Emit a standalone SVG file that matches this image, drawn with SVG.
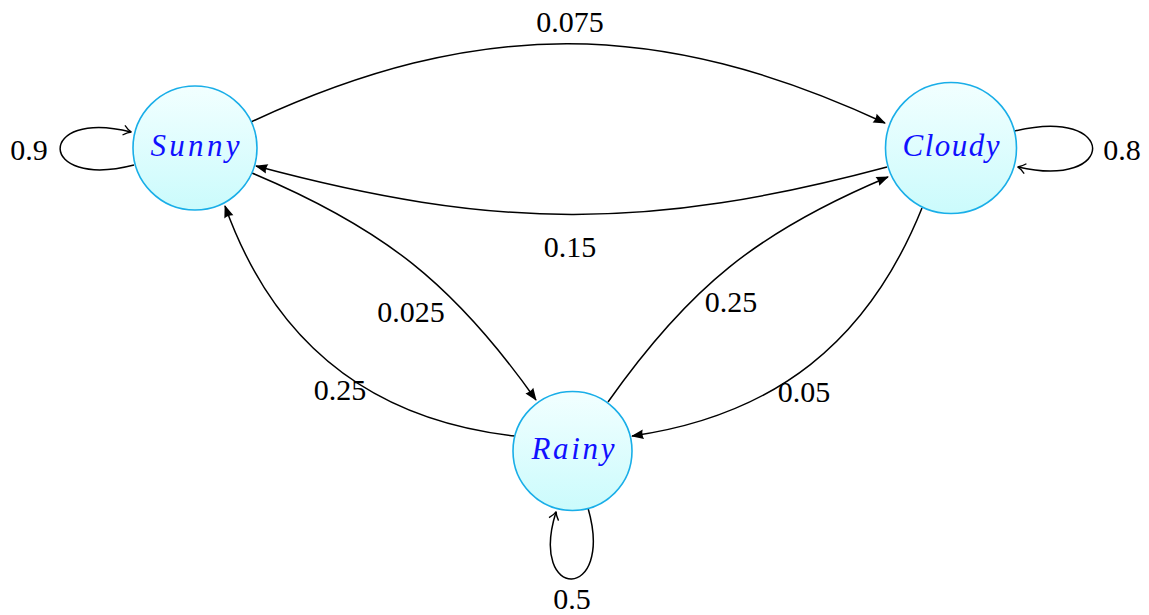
<svg xmlns="http://www.w3.org/2000/svg" width="1149" height="615" viewBox="0 0 1149 615">
<style>
.node circle{fill:url(#g);stroke:#19aee8;stroke-width:1.6}
.node text{font-family:'Liberation Serif','DejaVu Serif',serif;font-style:italic;font-size:31px;fill:#1010ff;text-anchor:middle}
.edge{fill:none;stroke:#000;stroke-width:1.5}
.lbl{font-family:'Liberation Serif','DejaVu Serif',serif;font-size:30px;fill:#000;text-anchor:middle}
</style>
<defs>
<linearGradient id="g" x1="0" y1="0" x2="0" y2="1">
<stop offset="0" stop-color="#f2ffff"/>
<stop offset="1" stop-color="#cbfbfc"/>
</linearGradient>
<marker id="a" viewBox="-13 -6 15 12" refX="0" refY="0" markerWidth="15" markerHeight="12" markerUnits="userSpaceOnUse" orient="auto">
<path d="M1,0 L-11.5,-4.8 Q-9.5,0 -11.5,4.8 Z" fill="#000"/>
</marker>
<marker id="o" viewBox="-10 -6 12 12" refX="0" refY="0" markerWidth="12" markerHeight="12" markerUnits="userSpaceOnUse" orient="auto">
<path d="M-7.5,-5 C-4,-1.8 -1.5,-0.5 0.5,0 C-1.5,0.5 -4,1.8 -7.5,5" fill="none" stroke="#000" stroke-width="1.3"/>
</marker>
</defs>
<g id="connectors">
<path class="edge" marker-end="url(#a)" d="M251,122 C477,17 659,18 885,123"/>
<path class="edge" marker-end="url(#a)" d="M887,167 C648,231 495,230 256,166"/>
<path class="edge" marker-end="url(#a)" d="M252,173 C383,228 454,284 536,400"/>
<path class="edge" marker-end="url(#a)" d="M515,436 C371,420 274,343 225,206"/>
<path class="edge" marker-end="url(#a)" d="M608,402 C689,287 758,231.5 888,177"/>
<path class="edge" marker-end="url(#a)" d="M922,208 C868,342 775,415.5 632,436"/>
<path class="edge" marker-end="url(#o)" d="M134,165 C36,190 36,108 131,132"/>
<path class="edge" marker-end="url(#o)" d="M1015,131 C1118,106 1118,190 1018,167"/>
<path class="edge" marker-end="url(#o)" d="M588,508 C615,602 528,602 556,512"/>
<text class="lbl" font-family="Liberation Serif, serif" x="570" y="32">0.075</text>
<text class="lbl" font-family="Liberation Serif, serif" x="570" y="257">0.15</text>
<text class="lbl" font-family="Liberation Serif, serif" x="411" y="322">0.025</text>
<text class="lbl" font-family="Liberation Serif, serif" x="340" y="400">0.25</text>
<text class="lbl" font-family="Liberation Serif, serif" x="731" y="312">0.25</text>
<text class="lbl" font-family="Liberation Serif, serif" x="804" y="402">0.05</text>
<text class="lbl" font-family="Liberation Serif, serif" x="29" y="160">0.9</text>
<text class="lbl" font-family="Liberation Serif, serif" x="1122" y="160">0.8</text>
<text class="lbl" font-family="Liberation Serif, serif" x="572" y="609">0.5</text>
</g>
<g id="sunny" class="node">
<circle cx="195" cy="148" r="62"/>
<text font-family="Liberation Serif, serif" x="195" y="156" textLength="89" lengthAdjust="spacing">Sunny</text>
</g>
<g id="cloudy" class="node">
<circle cx="951" cy="148" r="65.5"/>
<text font-family="Liberation Serif, serif" x="951" y="156" textLength="97" lengthAdjust="spacing">Cloudy</text>
</g>
<g id="rainy" class="node">
<circle cx="572.5" cy="451" r="59.5"/>
<text font-family="Liberation Serif, serif" x="573" y="459" textLength="83" lengthAdjust="spacing">Rainy</text>
</g>
</svg>
